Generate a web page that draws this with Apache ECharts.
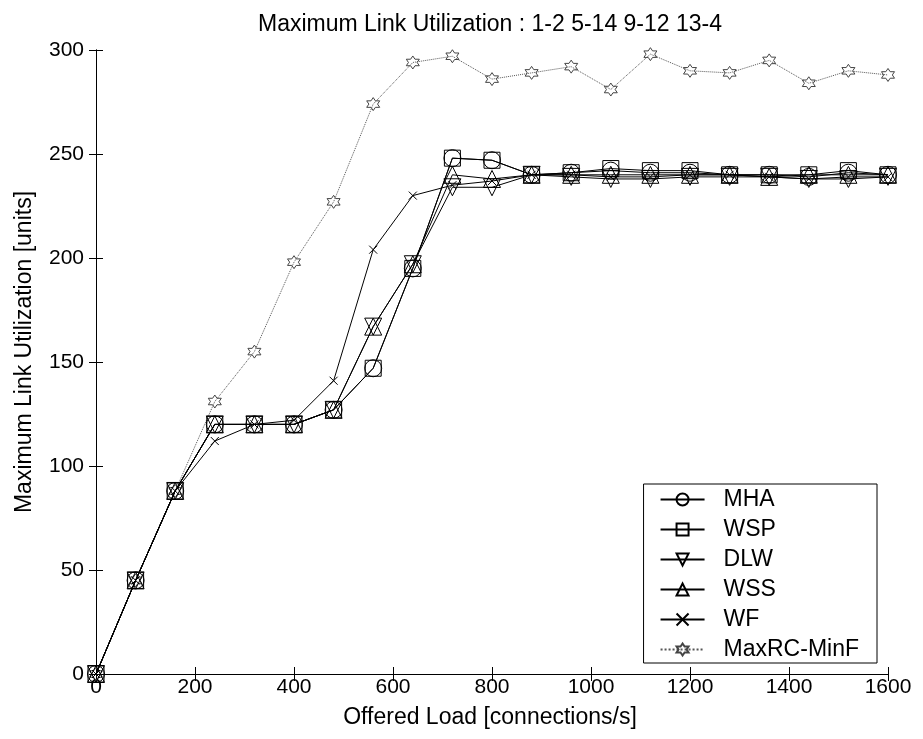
<!DOCTYPE html>
<html>
<head>
<meta charset="utf-8">
<script src="https://cdn.jsdelivr.net/npm/echarts@6/dist/echarts.min.js"></script>
<style>html,body{margin:0;padding:0;background:#fff}#c{width:923px;height:739px}</style>
</head>
<body>
<div id="c"></div>
<script>
const loads = [0,80,160,240,320,400,480,560,640,720,800,880,960,1040,1120,1200,1280,1360,1440,1520,1600];
const seriesNames = ['MHA','WSP','DLW','WSS','WF','MaxRC-MinF'];
const MHA  = [0,45,88,120,120,120,127,147,195,248,247,240,241,242,241,241,240,240,239,241,240];
const WSP  = [0,45,88,120,120,120,127,147,195,248,247,240,241,243,242,242,240,240,240,242,240];
const DLW  = [0,45,88,120,120,120,127,167,197,234,234,240,239,238,238,239,239,239,238,238,239];
const WSS  = [0,45,88,120,120,120,127,167,197,240,238,240,240,240,240,240,240,239,240,240,240];
const WF   = [0,45,88,112,120,122,141,204,230,235,237,240,240,239,239,240,240,239,238,239,239];
const MAXRC= [0,45,88,131,155,198,227,274,294,297,286,289,292,281,298,290,289,295,284,290,288];
const xTicks = [0,200,400,600,800,1000,1200,1400,1600];
const yTicks = [0,50,100,150,200,250,300];

const FONT = 'Liberation Sans';
const pair = arr => loads.map((x,i)=>[x,arr[i]]);
const symbols = {
  'MHA':'circle',
  'WSP':'rect',
  'DLW':'path://M-10,-7 L10,-7 L0,10 Z',
  'WSS':'path://M-10,7 L10,7 L0,-10 Z',
  'WF':'path://M-5,-5 L5,5 M-5,5 L5,-5',
  'MaxRC-MinF':'path://M0,-10 L2.9,-5 L8.66,-5 L5.8,0 L8.66,5 L2.9,5 L0,10 L-2.9,5 L-8.66,5 L-5.8,0 L-8.66,-5 L-2.9,-5 Z'
};
const sizes = {'MHA':17,'WSP':16,'DLW':17,'WSS':17,'WF':8,'MaxRC-MinF':13};
const dataMap = {'MHA':MHA,'WSP':WSP,'DLW':DLW,'WSS':WSS,'WF':WF,'MaxRC-MinF':MAXRC};

const series = seriesNames.map(n => ({
  name:n, type:'line', data:pair(dataMap[n]), xAxisIndex:0, yAxisIndex:0,
  symbol:symbols[n], symbolSize:sizes[n], showAllSymbol:true,
  lineStyle:{color: n==='MaxRC-MinF' ? '#555' : '#000', width:1, type: n==='MaxRC-MinF' ? 'dotted' : 'solid'},
  itemStyle:{color:'rgba(0,0,0,0)', borderColor: n==='MaxRC-MinF' ? '#444' : '#000', borderWidth:1},
  emphasis:{disabled:true}, animation:false, z: n==='MaxRC-MinF'?1:2
}));

const tickStyle = {show:true, inside:true, length:7, lineStyle:{color:'#000', width:1}};
const lineStyleAx = {show:true, lineStyle:{color:'#000', width:1}};
const fmt = v => String(v);

const chart = echarts.init(document.getElementById('c'), null, {renderer:'canvas'});
chart.setOption({
  backgroundColor:'#fff',
  animation:false,
  title:{text:'Maximum Link Utilization : 1-2 5-14 9-12 13-4', left:485, textAlign:'center', top:8,
    textStyle:{fontFamily:FONT, fontSize:23, fontWeight:'normal', color:'#000'}},
  grid:{left:96, right:35, top:50, bottom:65},
  legend:{
    data:seriesNames, orient:'vertical', right:46, bottom:76,
    backgroundColor:'#fff', borderColor:'#000', borderWidth:1, borderRadius:0,
    padding:[4,18,2,16], itemGap:7, itemWidth:44, itemHeight:15,
    textStyle:{fontFamily:FONT, fontSize:23, color:'#000', padding:[0,0,0,14]}
  },
  xAxis:[
    {type:'value', min:0, max:1600, interval:200, position:'bottom',
      name:'Offered Load [connections/s]', nameLocation:'middle', nameGap:32,
      nameTextStyle:{fontFamily:FONT, fontSize:23, color:'#000', padding:[0,4,0,0]},
      axisLine:lineStyleAx, axisTick:tickStyle, splitLine:{show:false},
      axisLabel:{fontFamily:FONT, fontSize:21, color:'#000', margin:3, formatter:fmt}},
    {type:'value', min:0, max:1600, interval:200, position:'top',
      axisLine:lineStyleAx, axisTick:tickStyle, splitLine:{show:false},
      axisLabel:{show:false}}
  ],
  yAxis:[
    {type:'value', min:0, max:300, interval:50, position:'left',
      name:'Maximum Link Utilization [units]', nameLocation:'middle', nameGap:60,
      nameTextStyle:{fontFamily:FONT, fontSize:23, color:'#000', padding:[0,0,0,20]},
      axisLine:lineStyleAx, axisTick:tickStyle, splitLine:{show:false},
      axisLabel:{fontFamily:FONT, fontSize:21, color:'#000', margin:12, formatter:fmt}},
    {type:'value', min:0, max:300, interval:50, position:'right',
      axisLine:lineStyleAx, axisTick:tickStyle, splitLine:{show:false},
      axisLabel:{show:false}}
  ],
  series:series
});
</script>
</body>
</html>
